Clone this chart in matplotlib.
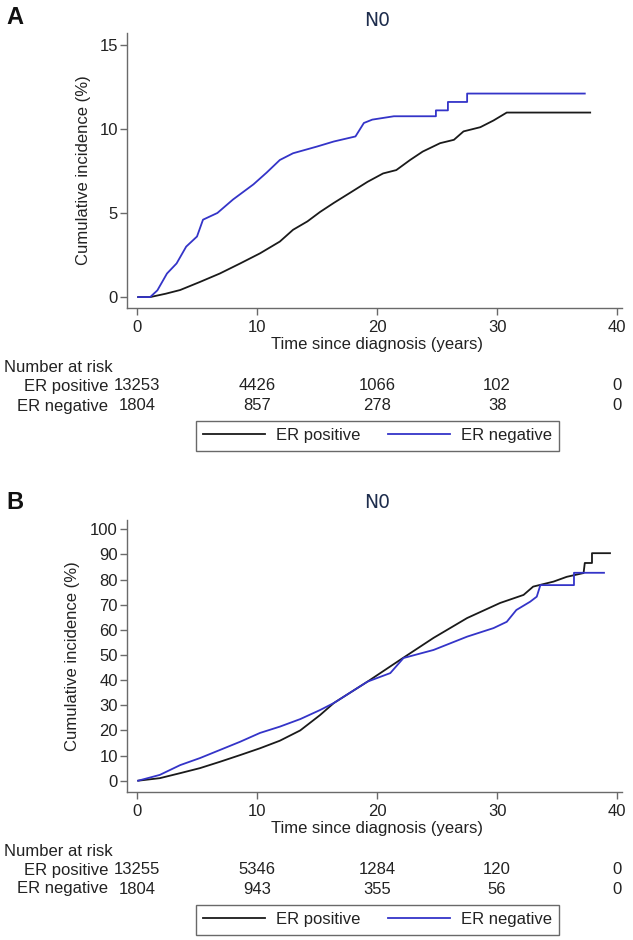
import matplotlib
matplotlib.use("Agg")
import matplotlib.pyplot as plt
from matplotlib.transforms import blended_transform_factory
from matplotlib.lines import Line2D

plt.rcParams['font.family'] = ['Liberation Sans', 'DejaVu Sans']

# ---------------- Data ----------------
# Panel A (N0) cumulative incidence (%)
a_pos_t = [0.1, 1.1, 2.4, 3.6, 5.25, 6.9, 8.6, 10.25, 11.9, 13.0, 14.2, 15.25, 16.4, 17.75,
           19.2, 20.5, 21.6, 22.75, 23.8, 25.25, 26.4, 27.2, 28.6, 29.7, 30.8, 37.75]
a_pos_v = [0.0, 0.0, 0.2, 0.42, 0.9, 1.4, 2.0, 2.6, 3.3, 4.0, 4.5, 5.06, 5.6, 6.2,
           6.85, 7.35, 7.55, 8.15, 8.65, 9.15, 9.35, 9.85, 10.1, 10.5, 10.97, 10.97]
a_neg_t = [0.1, 1.1, 1.7, 2.5, 3.3, 4.1, 5.0, 5.5, 6.7, 8.0, 9.7, 10.8, 11.9, 13.0, 15.0,
           16.4, 18.2, 18.9, 19.6, 21.4, 24.9, 24.9, 25.9, 25.9, 27.5, 27.5, 37.3]
a_neg_v = [0.0, 0.0, 0.4, 1.4, 2.0, 3.0, 3.6, 4.6, 5.0, 5.8, 6.7, 7.4, 8.15, 8.55, 8.95,
           9.25, 9.55, 10.35, 10.55, 10.75, 10.75, 11.1, 11.1, 11.6, 11.6, 12.1, 12.1]

# Panel B (N0)
b_pos_t = [0.1, 1.9, 3.6, 5.25, 6.9, 8.6, 10.25, 11.9, 13.6, 15.25, 16.4, 19.2, 21.9,
           24.7, 27.5, 30.25, 32.2, 33.0, 34.7, 35.8, 37.2, 37.3, 37.9, 37.9, 39.4]
b_pos_v = [0.0, 1.0, 3.0, 5.0, 7.5, 10.2, 12.9, 15.9, 20.0, 26.1, 30.9, 39.4, 48.0,
           56.8, 64.7, 70.7, 73.9, 77.2, 79.2, 81.1, 82.6, 86.6, 86.6, 90.5, 90.5]
b_neg_t = [0.1, 1.9, 3.6, 5.25, 6.9, 8.6, 10.25, 11.9, 13.6, 15.25, 16.4, 19.2, 21.1,
           22.2, 24.7, 27.5, 29.7, 30.8, 31.6, 32.75, 33.3, 33.6, 36.4, 36.4, 38.9]
b_neg_v = [0.0, 2.3, 6.2, 9.0, 12.2, 15.5, 19.0, 21.5, 24.5, 28.1, 30.9, 39.4, 42.8,
           48.8, 52.0, 57.3, 60.7, 63.2, 67.9, 71.2, 73.2, 77.8, 77.8, 82.7, 82.7]

risk_times = [0, 10, 20, 30, 40]
a_risk_pos = ["13253", "4426", "1066", "102", "0"]
a_risk_neg = ["1804", "857", "278", "38", "0"]
b_risk_pos = ["13255", "5346", "1284", "120", "0"]
b_risk_neg = ["1804", "943", "355", "56", "0"]

series_labels = ["ER positive", "ER negative"]
title_text = "N0"
xlabel_text = "Time since diagnosis (years)"
ylabel_text = "Cumulative incidence (%)"

# ---------------- Layout ----------------
W, H = 633, 940
fig = plt.figure(figsize=(W / 100, H / 100), dpi=100)

def fy(py):
    return 1 - py / H

def fx(px):
    return px / W

BLACK = "#1a1a1a"
BLUE = "#3434c8"
SPINE = "#6a6a6a"
TXT = "#222222"
FS = 12

panels = [
    dict(letter="A", top=33, bottom=308, ylim=(-0.65, 15.7), yticks=[0, 5, 10, 15],
         pos=(a_pos_t, a_pos_v), neg=(a_neg_t, a_neg_v), rp=a_risk_pos, rn=a_risk_neg,
         letter_y=18, title_y=21, xlab_y=345, nar_y=368, r1=386, r2=406, leg_y=(419, 452),
         ylab_x=91),
    dict(letter="B", top=520, bottom=792, ylim=(-4.5, 103.7), yticks=list(range(0, 101, 10)),
         pos=(b_pos_t, b_pos_v), neg=(b_neg_t, b_neg_v), rp=b_risk_pos, rn=b_risk_neg,
         letter_y=502, title_y=503, xlab_y=829, nar_y=852, r1=870, r2=889, leg_y=(904, 935),
         ylab_x=80),
]

left_px, right_px = 127, 622
for p in panels:
    ax = fig.add_axes([fx(left_px), fy(p["bottom"]), fx(right_px) - fx(left_px),
                       (p["bottom"] - p["top"]) / H])
    ax.plot(p["pos"][0], p["pos"][1], color=BLACK, lw=1.3)
    ax.plot(p["neg"][0], p["neg"][1], color=BLUE, lw=1.3)
    ax.set_xlim(-0.83, 40.4)
    ax.set_ylim(*p["ylim"])
    ax.set_xticks(risk_times)
    ax.set_yticks(p["yticks"])
    for s in ["top", "right"]:
        ax.spines[s].set_visible(False)
    for s in ["left", "bottom"]:
        ax.spines[s].set_color(SPINE)
        ax.spines[s].set_linewidth(1.0)
    ax.tick_params(axis="both", direction="out", length=5, width=1.0, color=SPINE,
                   labelsize=FS, labelcolor=TXT)
    ax.tick_params(axis="x", pad=4)
    ax.tick_params(axis="y", pad=1.5)

    bt = blended_transform_factory(ax.transData, fig.transFigure)
    ax.set_ylabel(ylabel_text, fontsize=FS, color=TXT)
    ax.yaxis.set_label_coords(fx(p["ylab_x"]), 0.5,
                              transform=blended_transform_factory(fig.transFigure, ax.transAxes))
    ax.text(20, fy(p["xlab_y"]), xlabel_text, transform=bt, ha="center", va="center",
            fontsize=FS, color=TXT)
    ax.text(20, fy(p["title_y"]), title_text, transform=bt, ha="center", va="center",
            fontsize=13.5, color="#1e2d4d", family="DejaVu Sans")
    fig.text(fx(15), fy(p["letter_y"]), p["letter"], ha="center", va="center",
             fontsize=17, fontweight="bold", color="#111111")

    # Number at risk table
    fig.text(fx(4), fy(p["nar_y"]), "Number at risk", ha="left", va="center",
             fontsize=FS, color=TXT)
    fig.text(fx(108), fy(p["r1"]), series_labels[0], ha="right", va="center",
             fontsize=FS, color=TXT)
    fig.text(fx(108), fy(p["r2"]), series_labels[1], ha="right", va="center",
             fontsize=FS, color=TXT)
    for t, vp, vn in zip(risk_times, p["rp"], p["rn"]):
        ax.text(t, fy(p["r1"]), vp, transform=bt, ha="center", va="center",
                fontsize=FS, color=TXT, clip_on=False)
        ax.text(t, fy(p["r2"]), vn, transform=bt, ha="center", va="center",
                fontsize=FS, color=TXT, clip_on=False)

    # Legend
    handles = [Line2D([], [], color=BLACK, lw=1.3), Line2D([], [], color=BLUE, lw=1.3)]
    ly = (p["leg_y"][0] + p["leg_y"][1]) / 2
    leg = fig.legend(handles, series_labels, loc="center",
                     bbox_to_anchor=(fx(377.5), fy(ly)), ncol=2, frameon=True,
                     fancybox=False, fontsize=FS, handlelength=3.7, handletextpad=0.65,
                     columnspacing=1.7, borderpad=0.45, edgecolor="#444444")
    leg.get_frame().set_linewidth(1.0)
    for t in leg.get_texts():
        t.set_color(TXT)

fig.savefig("out.png", dpi=100)
